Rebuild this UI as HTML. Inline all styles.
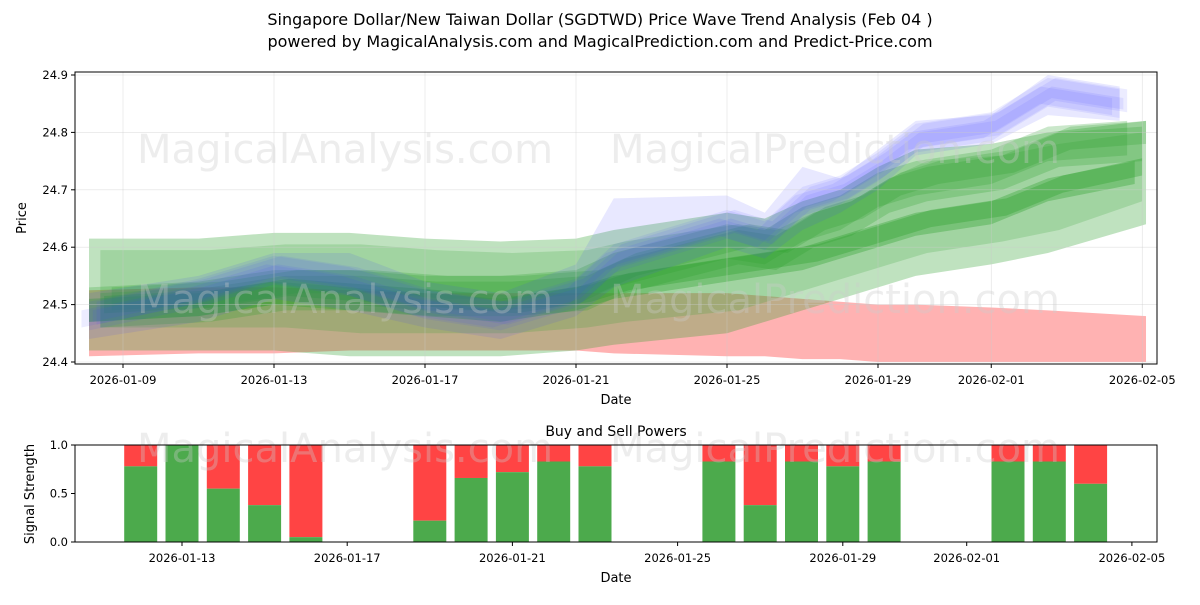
<!DOCTYPE html>
<html><head><meta charset="utf-8"><style>
body{margin:0;background:#fff;font-family:"Liberation Sans","DejaVu Sans",sans-serif}
svg text{font-family:"DejaVu Sans","Liberation Sans",sans-serif}
</style></head><body>
<svg id="chart" width="1200" height="600" xmlns="http://www.w3.org/2000/svg">
<rect width="1200" height="600" fill="#fff"/>
<text x="600" y="25" text-anchor="middle" font-size="16">Singapore Dollar/New Taiwan Dollar (SGDTWD) Price Wave Trend Analysis (Feb 04 )</text>
<text x="600" y="47" text-anchor="middle" font-size="16">powered by MagicalAnalysis.com and MagicalPrediction.com and Predict-Price.com</text>
<g id="topChart"></g>
<g id="botChart"></g>
</svg>
<script>
// Top chart data (day offset from 2026-01-09)
const bandDays = [-0.9, 2, 4, 6, 8, 10, 12, 13, 16, 17, 18, 19, 20, 21, 23, 24.5, 25.8];
const blueMid  = [24.48,24.52,24.56,24.54,24.50,24.48,24.52,24.58,24.64,24.62,24.68,24.70,24.74,24.79,24.81,24.87,24.85];
const blueWideTop = [24.52,24.55,24.59,24.59,24.54,24.52,24.57,24.685,24.69,24.66,24.74,24.72,24.77,24.82,24.83,24.90,24.88];
const blueWideBot = [24.44,24.47,24.51,24.49,24.46,24.44,24.48,24.53,24.60,24.58,24.63,24.66,24.70,24.76,24.78,24.83,24.82];
const greenHi  = [24.50,24.51,24.53,24.53,24.52,24.52,24.53,24.56,24.61,24.60,24.64,24.66,24.70,24.72,24.74,24.78,24.79];
const greenMid = [24.49,24.50,24.52,24.51,24.50,24.49,24.51,24.53,24.56,24.57,24.58,24.60,24.62,24.64,24.66,24.70,24.73];
const greenWideTop = [24.615,24.615,24.625,24.625,24.615,24.61,24.615,24.63,24.66,24.65,24.68,24.70,24.74,24.77,24.78,24.80,24.82];
const greenWideBot = [24.42,24.42,24.42,24.41,24.41,24.41,24.42,24.43,24.45,24.47,24.49,24.51,24.53,24.55,24.57,24.59,24.64];
const redTop = [24.525,24.53,24.53,24.525,24.52,24.52,24.52,24.52,24.52,24.515,24.51,24.505,24.50,24.50,24.495,24.49,24.48];
const redBot = [24.41,24.415,24.415,24.42,24.42,24.42,24.42,24.415,24.41,24.41,24.405,24.405,24.40,24.40,24.40,24.40,24.40];
const yTicks = [24.4,24.5,24.6,24.7,24.8,24.9];
const xTickDays = [0,4,8,12,16,20,23,27];
const xTickLabels = ["2026-01-09","2026-01-13","2026-01-17","2026-01-21","2026-01-25","2026-01-29","2026-02-01","2026-02-05"];
// Bottom chart data (day offset from 2026-01-13)
const barDays = [-1,0,1,2,3,6,7,8,9,10,13,14,15,16,17,20,21,22];
const buyVals = [0.78,1.0,0.55,0.38,0.05,0.22,0.66,0.72,0.83,0.78,0.83,0.38,0.83,0.78,0.83,0.83,0.83,0.6];
const bTickDays = [0,4,8,12,16,19,23];
const bTickLabels = ["2026-01-13","2026-01-17","2026-01-21","2026-01-25","2026-01-29","2026-02-01","2026-02-05"];

const NS="http://www.w3.org/2000/svg";
function mk(p,t,a,txt){const e=document.createElementNS(NS,t);for(const k in a)e.setAttribute(k,a[k]);if(txt!==undefined)e.textContent=txt;p.appendChild(e);return e;}
const topG=document.getElementById('topChart'), botG=document.getElementById('botChart');
const L=75,R=1157,T=72,B=364;
const x=d=>123+d*37.75, y=v=>362-(v-24.4)*574;
const clip=mk(topG,'clipPath',{id:'cp'});mk(clip,'rect',{x:L,y:T,width:R-L,height:B-T});
const g=mk(topG,'g',{'clip-path':'url(#cp)'});
// stretch: extra days added to the final point (forecast extension)
function band(tops,bots,fill,op,name,dx,dy,stretch){
  const dd=bandDays.map((d,i)=>d+dx+(i===bandDays.length-1?stretch||0:0));
  let pts=dd.map((d,i)=>x(d)+','+y(tops[i]+dy));
  pts=pts.concat(dd.map((d,i)=>x(d)+','+y(bots[i]+dy)).reverse());
  const p=mk(g,'polygon',{points:pts.join(' '),fill:fill,'fill-opacity':op});
  
  
}
band(redTop,redBot,'#ff0000',0.3,'red-band',0,0,1.3);
band(greenWideTop,greenWideBot,'#2ca02c',0.3,'green-wide-band',0,0,1.3);
band(greenWideTop.map(v=>v-0.02),greenWideBot.map(v=>v+0.04),'#2ca02c',0.2,'green-band-2',0.3,0,0.9);
[[0.03,0,0,0.8],[0.03,0.3,-0.01,0.9],[0.02,0.6,0.01,0.7]].forEach((o,k)=>band(greenHi.map(v=>v+o[0]),greenHi.map(v=>v-o[0]),'#2ca02c',0.25,'green-upper-band-'+k,o[1],o[2],o[3]));
[[0.02,0,0,1.0],[0.015,0.4,0.01,0.8]].forEach((o,k)=>band(greenMid.map(v=>v+o[0]),greenMid.map(v=>v-o[0]),'#2ca02c',0.35,'green-mid-band-'+k,o[1],o[2],o[3]));
band(blueWideTop,blueWideBot,'#4444ff',0.12,'blue-wide-band',0,0,0.6);
[[0.025,0,0],[0.02,0.2,0.005],[0.015,-0.2,-0.005],[0.01,0.1,0]].forEach((o,k)=>band(blueMid.map(v=>v+o[0]),blueMid.map(v=>v-o[0]),'#4444ff',0.1,'blue-band-'+k,o[1],o[2],0.6));
yTicks.forEach(v=>{mk(topG,'line',{x1:L,x2:R,y1:y(v),y2:y(v),stroke:'#ccc','stroke-width':0.6,'stroke-opacity':0.6});mk(topG,'line',{x1:L-4,x2:L,y1:y(v),y2:y(v),stroke:'#000'});
 const t=mk(topG,'text',{x:L-7,y:y(v)+4,'text-anchor':'end','font-size':11.5},v.toFixed(1));
 
 });
xTickDays.forEach((d,i)=>{mk(topG,'line',{x1:x(d),x2:x(d),y1:T,y2:B,stroke:'#ccc','stroke-width':0.6,'stroke-opacity':0.6});mk(topG,'line',{x1:x(d),x2:x(d),y1:B,y2:B+4,stroke:'#000'});
 const t=mk(topG,'text',{x:x(d),y:B+20,'text-anchor':'middle','font-size':11.5},xTickLabels[i]);
 
 });
mk(topG,'text',{x:345,y:163,'text-anchor':'middle','font-size':40,fill:'#ccc','fill-opacity':0.35},'MagicalAnalysis.com');
mk(topG,'text',{x:835,y:163,'text-anchor':'middle','font-size':40,fill:'#ccc','fill-opacity':0.35},'MagicalPrediction.com');
mk(topG,'text',{x:345,y:313,'text-anchor':'middle','font-size':40,fill:'#ccc','fill-opacity':0.35},'MagicalAnalysis.com');
mk(topG,'text',{x:835,y:313,'text-anchor':'middle','font-size':40,fill:'#ccc','fill-opacity':0.35},'MagicalPrediction.com');
mk(topG,'rect',{x:L,y:T,width:R-L,height:B-T,fill:'none',stroke:'#000'});
mk(topG,'text',{x:616,y:404,'text-anchor':'middle','font-size':13},'Date');
mk(topG,'text',{x:0,y:0,'text-anchor':'middle','font-size':13,transform:'translate(26,218) rotate(-90)'},'Price');
const BL=75,BR=1157,BT=445,BB=542;
const bx=d=>182+d*41.3, by=v=>BB-v*(BB-BT);
mk(botG,'text',{x:616,y:436,'text-anchor':'middle','font-size':14},'Buy and Sell Powers');
barDays.forEach((d,i)=>{
 const w=33;
 const r=mk(botG,'rect',{x:bx(d)-w/2,y:by(1),width:w,height:by(buyVals[i])-by(1),fill:'#ff4444'});
 
 
 const gr=mk(botG,'rect',{x:bx(d)-w/2,y:by(buyVals[i]),width:w,height:BB-by(buyVals[i]),fill:'#4caa4c'});
 
 
});
[0,0.5,1].forEach(v=>{mk(botG,'line',{x1:BL-4,x2:BL,y1:by(v),y2:by(v),stroke:'#000'});mk(botG,'text',{x:BL-7,y:by(v)+4,'text-anchor':'end','font-size':11.5},v.toFixed(1));});
bTickDays.forEach((d,i)=>{mk(botG,'line',{x1:bx(d),x2:bx(d),y1:BB,y2:BB+4,stroke:'#000'});mk(botG,'text',{x:bx(d),y:BB+20,'text-anchor':'middle','font-size':11.5},bTickLabels[i]);});
mk(botG,'text',{x:345,y:462,'text-anchor':'middle','font-size':40,fill:'#ccc','fill-opacity':0.35},'MagicalAnalysis.com');
mk(botG,'text',{x:835,y:462,'text-anchor':'middle','font-size':40,fill:'#ccc','fill-opacity':0.35},'MagicalPrediction.com');
mk(botG,'rect',{x:BL,y:BT,width:BR-BL,height:BB-BT,fill:'none',stroke:'#000'});
mk(botG,'text',{x:616,y:582,'text-anchor':'middle','font-size':13},'Date');
mk(botG,'text',{x:0,y:0,'text-anchor':'middle','font-size':13,transform:'translate(34,494) rotate(-90)'},'Signal Strength');
</script>
</body></html>
